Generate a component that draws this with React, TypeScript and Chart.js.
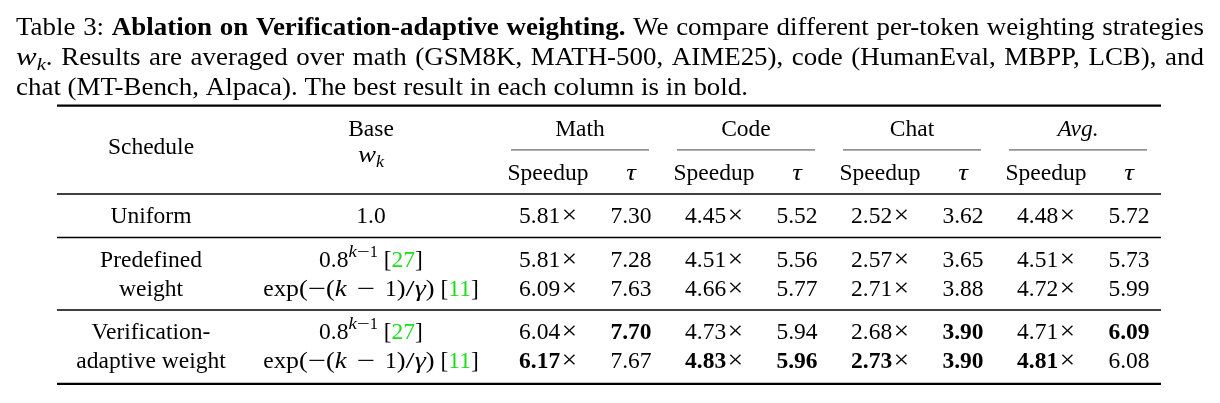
import { useEffect, useRef } from "react"
import { Chart, registerables } from "chart.js"

Chart.register(...registerables)

// Dados da tabela
const domains = ["Math", "Code", "Chat", "Avg."]
const metrics = ["Speedup", "τ"]
const schedules = [["Uniform"], ["Predefined", "weight"], ["Verification-", "adaptive weight"]]
const baseWeights = ["1.0", "0.8^(k−1)", "exp(−(k − 1)/γ)", "0.8^(k−1)", "exp(−(k − 1)/γ)"]
const baseRefs = ["", "27", "11", "27", "11"]
const speedup = [
  [5.81, 4.45, 2.52, 4.48],
  [5.81, 4.51, 2.57, 4.51],
  [6.09, 4.66, 2.71, 4.72],
  [6.04, 4.73, 2.68, 4.71],
  [6.17, 4.83, 2.73, 4.81],
]
const tau = [
  [7.3, 5.52, 3.62, 5.72],
  [7.28, 5.56, 3.65, 5.73],
  [7.63, 5.77, 3.88, 5.99],
  [7.7, 5.94, 3.9, 6.09],
  [7.67, 5.96, 3.9, 6.08],
]

// Layout
const FONT = '"Liberation Serif", "Times New Roman", Times, serif'
const TABLE_SIZE = 23.5
const CAPTION_SIZE = 24.5
// largura aproximada das fórmulas (glifos matemáticos são mais largos que Times)
const mathStretch: Record<string, number> = {
  "−": 1.38,
  "(": 1.12,
  ")": 1.12,
  "/": 1.4,
  γ: 1.2,
  k: 1.15,
  " ": 1.7,
  x: 1.06,
  p: 1.1,
}
const CITE_GREEN = "#1fdc1f"
const colWidths = [188, 252, 102, 64, 102, 64, 102, 64, 102, 64]
const TABLE_LEFT = 57

type Run = {
  t: string
  bold?: boolean
  italic?: boolean
  scale?: number
  rise?: number
  color?: string
  sx?: number
}
type Cell = { x: number; y: number; runs: Run[] }

const colLeft: number[] = []
colWidths.reduce((acc, w) => {
  colLeft.push(acc)
  return acc + w
}, 0)
const tableWidth = colWidths.reduce((a, b) => a + b, 0)
const colCenter = (i: number) => colLeft[i] + colWidths[i] / 2

// converte uma expressão simples em trechos (itálico para variáveis, ^(...) sobrescrito)
function mathRuns(expr: string): Run[] {
  if (!/[a-zγ^]/.test(expr)) return [{ t: expr }]
  const out: Run[] = []
  let i = 0
  while (i < expr.length) {
    if (expr.startsWith("^(", i)) {
      const end = expr.indexOf(")", i)
      for (const ch of expr.slice(i + 2, end)) {
        out.push({ t: ch, italic: /[kγ]/.test(ch), scale: 0.7, rise: 0.42, sx: mathStretch[ch] ?? 1 })
      }
      i = end + 1
      continue
    }
    const ch = expr[i]
    out.push({ t: ch, italic: /[kγ]/.test(ch), sx: mathStretch[ch] ?? 1 })
    i++
  }
  return out
}

const timesRuns = (): Run[] => [
  { t: " ", sx: 0.25 },
  { t: "×", scale: 1.05, sx: 1.1 },
]
const wkRuns = (): Run[] => [
  { t: "w", italic: true, sx: 1.15 },
  { t: "k", italic: true, scale: 0.7, rise: -0.22, sx: 1.1 },
]

function fontOf(r: Run, size: number) {
  return `${r.italic ? "italic " : ""}${r.bold ? "bold " : ""}${size * (r.scale ?? 1)}px ${FONT}`
}

function runsWidth(ctx: CanvasRenderingContext2D, runs: Run[], size: number) {
  let w = 0
  for (const r of runs) {
    ctx.font = fontOf(r, size)
    w += ctx.measureText(r.t).width * (r.sx ?? 1)
  }
  return w
}

function drawRuns(
  ctx: CanvasRenderingContext2D,
  runs: Run[],
  x: number,
  y: number,
  size: number,
  align: "center" | "left",
  sx = 1
) {
  let cx = align === "center" ? x - (runsWidth(ctx, runs, size) * sx) / 2 : x
  for (const r of runs) {
    ctx.font = fontOf(r, size)
    ctx.fillStyle = r.color ?? "#000"
    const k = sx * (r.sx ?? 1)
    const w = ctx.measureText(r.t).width * k
    ctx.save()
    ctx.translate(cx, y - (r.rise ?? 0) * size)
    ctx.scale(k, 1)
    ctx.fillText(r.t, 0, 0)
    ctx.restore()
    cx += w
  }
}

// Linhas da tabela (em unidades de linha de texto)
const HEAD_LINE = 0
const SUB_LINE = 1.5
const rowLine: number[] = []
const groupRules: number[] = []
let nextLine = 3
schedules.forEach((g) => {
  g.forEach((_, k) => rowLine.push(nextLine + k))
  const last = nextLine + g.length - 1
  groupRules.push(last + 0.5)
  nextLine = last + 1.5
})

function buildCells(): Cell[] {
  const cells: Cell[] = []
  cells.push({ x: colCenter(0), y: 0.62, runs: [{ t: "Schedule" }] })
  cells.push({ x: colCenter(1), y: HEAD_LINE, runs: [{ t: "Base" }] })
  cells.push({ x: colCenter(1), y: 0.9, runs: wkRuns() })
  domains.forEach((d, i) => {
    const a = 2 + 2 * i
    cells.push({
      x: colLeft[a] + (colWidths[a] + colWidths[a + 1]) / 2,
      y: HEAD_LINE,
      runs: [{ t: d, italic: d === "Avg." }],
    })
    metrics.forEach((m, j) => {
      cells.push({
        x: colCenter(a + j),
        y: SUB_LINE,
        runs: [m === "τ" ? { t: m, italic: true, sx: 1.15 } : { t: m }],
      })
    })
  })

  let r = 0
  schedules.forEach((g) => {
    g.forEach((label) => {
      cells.push({ x: colCenter(0), y: rowLine[r], runs: [{ t: label }] })
      r++
    })
  })

  baseWeights.forEach((expr, i) => {
    const runs = mathRuns(expr)
    if (baseRefs[i]) {
      runs.push({ t: " [" }, { t: baseRefs[i], color: CITE_GREEN }, { t: "]" })
    }
    cells.push({ x: colCenter(1), y: rowLine[i], runs })
  })

  domains.forEach((_, d) => {
    const bestS = Math.max(...speedup.map((row) => row[d]))
    const bestT = Math.max(...tau.map((row) => row[d]))
    speedup.forEach((row, i) => {
      cells.push({
        x: colCenter(2 + 2 * d),
        y: rowLine[i],
        runs: [{ t: row[d].toFixed(2), bold: row[d] === bestS }, ...timesRuns()],
      })
    })
    tau.forEach((row, i) => {
      cells.push({
        x: colCenter(3 + 2 * d),
        y: rowLine[i],
        runs: [{ t: row[d].toFixed(2), bold: row[d] === bestT }],
      })
    })
  })
  return cells
}

// Legenda (caption)
const w = (t: string, bold = false): Run[] => [{ t, bold }]
const captionLines: Run[][][] = [
  [
    ...["Table", "3:"].map((t) => w(t)),
    ...["Ablation", "on", "Verification-adaptive", "weighting."].map((t) => w(t, true)),
    ...["We", "compare", "different", "per-token", "weighting", "strategies"].map((t) => w(t)),
  ],
  [
    [...wkRuns(), { t: "." }],
    ..."Results are averaged over math (GSM8K, MATH-500, AIME25), code (HumanEval, MBPP, LCB), and"
      .split(" ")
      .map((t) => w(t)),
  ],
  "chat (MT-Bench, Alpaca). The best result in each column is in bold.".split(" ").map((t) => w(t)),
]

function drawCaption(ctx: CanvasRenderingContext2D) {
  const left = 16
  const right = 1204
  const baselines = [35, 65, 95]
  ctx.font = `${CAPTION_SIZE}px ${FONT}`
  const space = ctx.measureText(" ").width
  const last = captionLines[captionLines.length - 1]
  const natural = last.reduce((s, wd) => s + runsWidth(ctx, wd, CAPTION_SIZE), 0) + space * (last.length - 1)
  const sx = (748 - left) / natural
  captionLines.forEach((line, li) => {
    const widths = line.map((wd) => runsWidth(ctx, wd, CAPTION_SIZE) * sx)
    const total = widths.reduce((a, b) => a + b, 0)
    const justify = li < captionLines.length - 1
    const gap = justify ? (right - left - total) / (line.length - 1) : space * sx
    let x = left
    line.forEach((wd, i) => {
      drawRuns(ctx, wd, x, baselines[li], CAPTION_SIZE, "left", sx)
      x += widths[i] + gap
    })
  })
}

const tablePlugin = {
  id: "tableText",
  afterDatasetsDraw(chart: Chart) {
    const ctx = chart.ctx
    const xs = chart.scales.x
    const ys = chart.scales.y
    const x0 = xs.getPixelForValue(0)
    const x1 = xs.getPixelForValue(tableWidth)
    ctx.save()
    ctx.textBaseline = "alphabetic"
    ctx.textAlign = "left"

    const hline = (line: number, a: number, b: number, lw: number, color = "#000") => {
      const y = ys.getPixelForValue(line)
      ctx.strokeStyle = color
      ctx.lineWidth = lw
      ctx.beginPath()
      ctx.moveTo(a, y)
      ctx.lineTo(b, y)
      ctx.stroke()
    }

    hline(-1.05, x0, x1, 2.2)
    domains.forEach((_, i) => {
      const a = 2 + 2 * i
      const l = xs.getPixelForValue(colLeft[a] + 14)
      const r = xs.getPixelForValue(colLeft[a] + colWidths[a] + colWidths[a + 1] - 14)
      hline(HEAD_LINE + 0.48, l, r, 1, "#444")
    })
    hline(SUB_LINE + 0.5, x0, x1, 1.3)
    groupRules.forEach((g, i) => {
      if (i === groupRules.length - 1) hline(g + 0.05, x0, x1, 2.2)
      else hline(g, x0, x1, 1.3)
    })

    const meta = chart.getDatasetMeta(0)
    const data = chart.data.datasets[0].data as unknown as Cell[]
    meta.data.forEach((pt, i) => {
      drawRuns(ctx, data[i].runs, pt.x, pt.y, TABLE_SIZE, "center")
    })

    drawCaption(ctx)
    ctx.restore()
  },
}

export default function App() {
  const chartRef = useRef<HTMLCanvasElement>(null)
  const chartInstance = useRef<Chart | null>(null)

  useEffect(() => {
    document.body.style.margin = "0"
    if (!chartRef.current) return
    if (chartInstance.current) chartInstance.current.destroy()
    const ctx = chartRef.current.getContext("2d")
    if (!ctx) return

    chartInstance.current = new Chart(ctx, {
      type: "scatter",
      data: {
        datasets: [
          {
            label: "cells",
            data: buildCells() as any,
            pointRadius: 0,
            pointHoverRadius: 0,
          },
        ],
      },
      options: {
        animation: false,
        responsive: true,
        maintainAspectRatio: false,
        events: [],
        layout: {
          padding: { left: TABLE_LEFT, right: 1220 - TABLE_LEFT - tableWidth, top: 92.5, bottom: 6 },
        },
        plugins: {
          legend: { display: false },
          tooltip: { enabled: false },
        },
        scales: {
          x: { type: "linear", min: 0, max: tableWidth, display: false },
          y: { type: "linear", min: -1.5, max: 9, reverse: true, display: false },
        },
      },
      plugins: [tablePlugin],
    })

    return () => {
      if (chartInstance.current) {
        chartInstance.current.destroy()
        chartInstance.current = null
      }
    }
  }, [])

  return (
    <div style={{ width: 1220, height: 403, position: "relative", background: "#fff" }}>
      <canvas ref={chartRef} />
    </div>
  )
}
